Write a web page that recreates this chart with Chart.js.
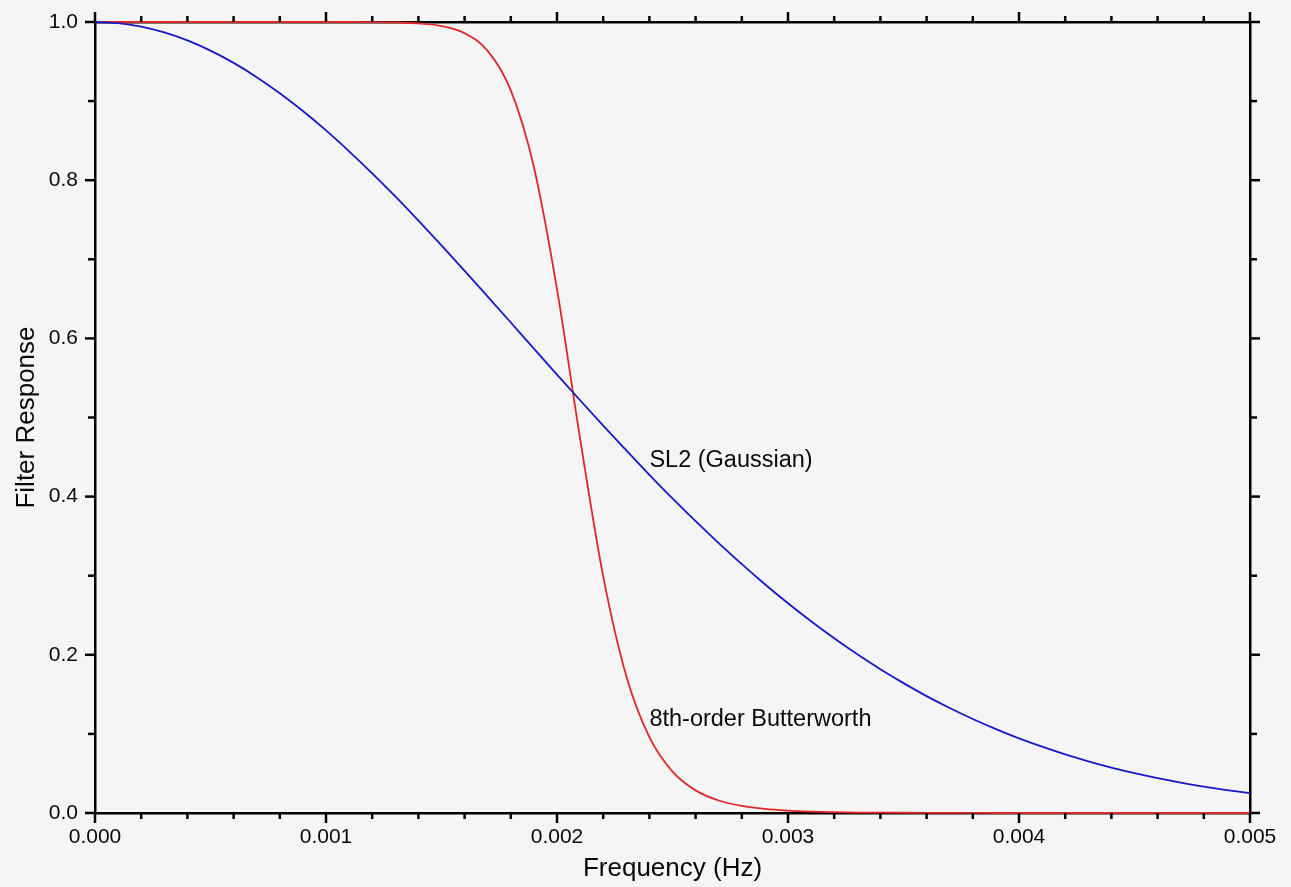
<!DOCTYPE html>
<html>
<head>
<meta charset="utf-8">
<script src="https://cdn.jsdelivr.net/npm/chart.js@4.4.1/dist/chart.umd.min.js"></script>
<style>
  html, body { margin: 0; padding: 0; background: #f5f5f5; }
  #wrap { width: 1291px; height: 887px; position: relative; }
</style>
</head>
<body>
<div id="wrap"><canvas id="c" width="1291" height="887"></canvas></div>
<script>
// ---- data ----
const frequencies = [
  0.0000, 0.0001, 0.0002, 0.0003, 0.0004, 0.0005, 0.0006, 0.0007, 0.0008, 0.0009,
  0.0010, 0.0011, 0.0012, 0.0013, 0.0014, 0.0015, 0.0016, 0.0017, 0.0018, 0.0019,
  0.0020, 0.0021, 0.0022, 0.0023, 0.0024, 0.0025, 0.0026, 0.0027, 0.0028, 0.0029,
  0.0030, 0.0031, 0.0032, 0.0033, 0.0034, 0.0035, 0.0036, 0.0037, 0.0038, 0.0039,
  0.0040, 0.0041, 0.0042, 0.0043, 0.0044, 0.0045, 0.0046, 0.0047, 0.0048, 0.0049,
  0.0050
];
const gaussianResponse = [
  1.0000, 0.9985, 0.9941, 0.9868, 0.9767, 0.9638, 0.9483, 0.9303, 0.9099, 0.8874,
  0.8629, 0.8365, 0.8086, 0.7794, 0.7489, 0.7176, 0.6855, 0.6529, 0.6201, 0.5871,
  0.5543, 0.5218, 0.4897, 0.4583, 0.4276, 0.3977, 0.3689, 0.3412, 0.3146, 0.2892,
  0.2651, 0.2423, 0.2208, 0.2006, 0.1818, 0.1642, 0.1478, 0.1328, 0.1189, 0.1061,
  0.0944, 0.0838, 0.0741, 0.0654, 0.0575, 0.0504, 0.0441, 0.0385, 0.0334, 0.0290,
  0.0250
];
const butterworthResponse = [
  1.0000, 1.0000, 1.0000, 1.0000, 1.0000, 1.0000, 1.0000, 1.0000, 1.0000, 1.0000,
  1.0000, 1.0000, 0.9999, 0.9995, 0.9983, 0.9949, 0.9858, 0.9635, 0.9136, 0.8167,
  0.6623, 0.4732, 0.2992, 0.1732, 0.0958, 0.0523, 0.0286, 0.0158, 0.0089, 0.0051,
  0.0030, 0.0018, 0.0011, 0.0006, 0.0004, 0.0003, 0.0002, 0.0001, 0.0001, 0.0000,
  0.0000, 0.0000, 0.0000, 0.0000, 0.0000, 0.0000, 0.0000, 0.0000, 0.0000, 0.0000,
  0.0000
];
const xTickValues = [0.000, 0.001, 0.002, 0.003, 0.004, 0.005];
const xTickLabels = ['0.000', '0.001', '0.002', '0.003', '0.004', '0.005'];
const xMinorTickValues = [0.0002, 0.0004, 0.0006, 0.0008, 0.0012, 0.0014, 0.0016, 0.0018,
  0.0022, 0.0024, 0.0026, 0.0028, 0.0032, 0.0034, 0.0036, 0.0038,
  0.0042, 0.0044, 0.0046, 0.0048];
const yTickValues = [0.0, 0.2, 0.4, 0.6, 0.8, 1.0];
const yTickLabels = ['0.0', '0.2', '0.4', '0.6', '0.8', '1.0'];
const yMinorTickValues = [0.1, 0.3, 0.5, 0.7, 0.9];
const annotationTexts = ['SL2 (Gaussian)', '8th-order Butterworth'];
const annotationX = [0.0024, 0.0024];
const annotationY = [0.446, 0.1176];

// ---- styling ----
const FONT = '"Liberation Sans", Arial, Helvetica, sans-serif';
const TEXT = '#0a0a0a';

const gaussPts = frequencies.map((f, i) => ({ x: f, y: gaussianResponse[i] }));
const buttPts = frequencies.map((f, i) => ({ x: f, y: butterworthResponse[i] }));

const tickMarks = {
  id: 'tickMarks',
  afterDraw(chart) {
    const ctx = chart.ctx;
    const a = chart.chartArea;
    const xs = chart.scales.x, ys = chart.scales.y;
    ctx.save();
    ctx.strokeStyle = '#000';
    ctx.lineWidth = 2.5;
    ctx.lineCap = 'butt';
    const seg = (x1, y1, x2, y2) => { ctx.beginPath(); ctx.moveTo(x1, y1); ctx.lineTo(x2, y2); ctx.stroke(); };
    const drawX = (vals, len) => vals.forEach(v => {
      const p = xs.getPixelForValue(v);
      seg(p, a.bottom, p, a.bottom + len);
      seg(p, a.top, p, a.top - len);
    });
    const drawY = (vals, len) => vals.forEach(v => {
      const p = ys.getPixelForValue(v);
      seg(a.left, p, a.left - len, p);
      seg(a.right, p, a.right + len, p);
    });
    drawX(xTickValues, 10); drawX(xMinorTickValues, 6);
    drawY(yTickValues, 10); drawY(yMinorTickValues, 7);
    // annotations
    ctx.fillStyle = TEXT;
    ctx.font = '23.5px ' + FONT;
    ctx.textAlign = 'left';
    ctx.textBaseline = 'middle';
    annotationTexts.forEach((t, i) => {
      ctx.fillText(t, xs.getPixelForValue(annotationX[i]), ys.getPixelForValue(annotationY[i]));
    });
    ctx.restore();
  }
};

const noPadH = s => { s.paddingLeft = 0; s.paddingRight = 0; };
const noPadV = s => { s.paddingTop = 0; s.paddingBottom = 0; };

new Chart(document.getElementById('c'), {
  type: 'line',
  data: {
    datasets: [
      { label: 'SL2 (Gaussian)', data: gaussPts, borderColor: '#1818c8', borderWidth: 1.8,
        pointRadius: 0, cubicInterpolationMode: 'monotone', fill: false, clip: 4 },
      { label: '8th-order Butterworth', data: buttPts, borderColor: '#e0282a', borderWidth: 1.8,
        pointRadius: 0, cubicInterpolationMode: 'monotone', fill: false, clip: 4 }
    ]
  },
  options: {
    responsive: false,
    devicePixelRatio: 1,
    animation: false,
    events: [],
    layout: { padding: 0 },
    plugins: { legend: { display: false }, tooltip: { enabled: false } },
    scales: {
      x: {
        type: 'linear', position: 'bottom', min: 0, max: 0.005,
        afterBuildTicks: s => { s.ticks = xTickValues.map(v => ({ value: v })); },
        afterFit: s => { s.height = 74; noPadH(s); },
        ticks: { callback: (v, i) => xTickLabels[i], font: { size: 21, family: FONT }, color: TEXT,
                 padding: 12, maxRotation: 0, autoSkip: false },
        grid: { display: false, drawTicks: false },
        border: { display: true, color: '#000', width: 2.5 },
        title: { display: true, text: 'Frequency (Hz)', font: { size: 26, family: FONT }, color: TEXT,
                 padding: { top: 0, bottom: 3 } }
      },
      x2: {
        type: 'linear', position: 'top', min: 0, max: 0.005,
        afterFit: s => { s.height = 22; noPadH(s); },
        ticks: { display: false },
        grid: { display: false, drawTicks: false },
        border: { display: true, color: '#000', width: 2.5 }
      },
      y: {
        type: 'linear', position: 'left', min: 0, max: 1,
        afterBuildTicks: s => { s.ticks = yTickValues.map(v => ({ value: v })); },
        afterFit: s => { s.width = 95; noPadV(s); },
        ticks: { callback: (v, i) => yTickLabels[i], font: { size: 21, family: FONT }, color: TEXT,
                 padding: 17, autoSkip: false },
        grid: { display: false, drawTicks: false },
        border: { display: true, color: '#000', width: 2.5 },
        title: { display: true, text: 'Filter Response', font: { size: 26, family: FONT }, color: TEXT,
                 padding: { top: 11, bottom: 0 } }
      },
      y2: {
        type: 'linear', position: 'right', min: 0, max: 1,
        afterFit: s => { s.width = 41; noPadV(s); },
        ticks: { display: false },
        grid: { display: false, drawTicks: false },
        border: { display: true, color: '#000', width: 2.5 }
      }
    }
  },
  plugins: [tickMarks]
});
</script>
</body>
</html>
